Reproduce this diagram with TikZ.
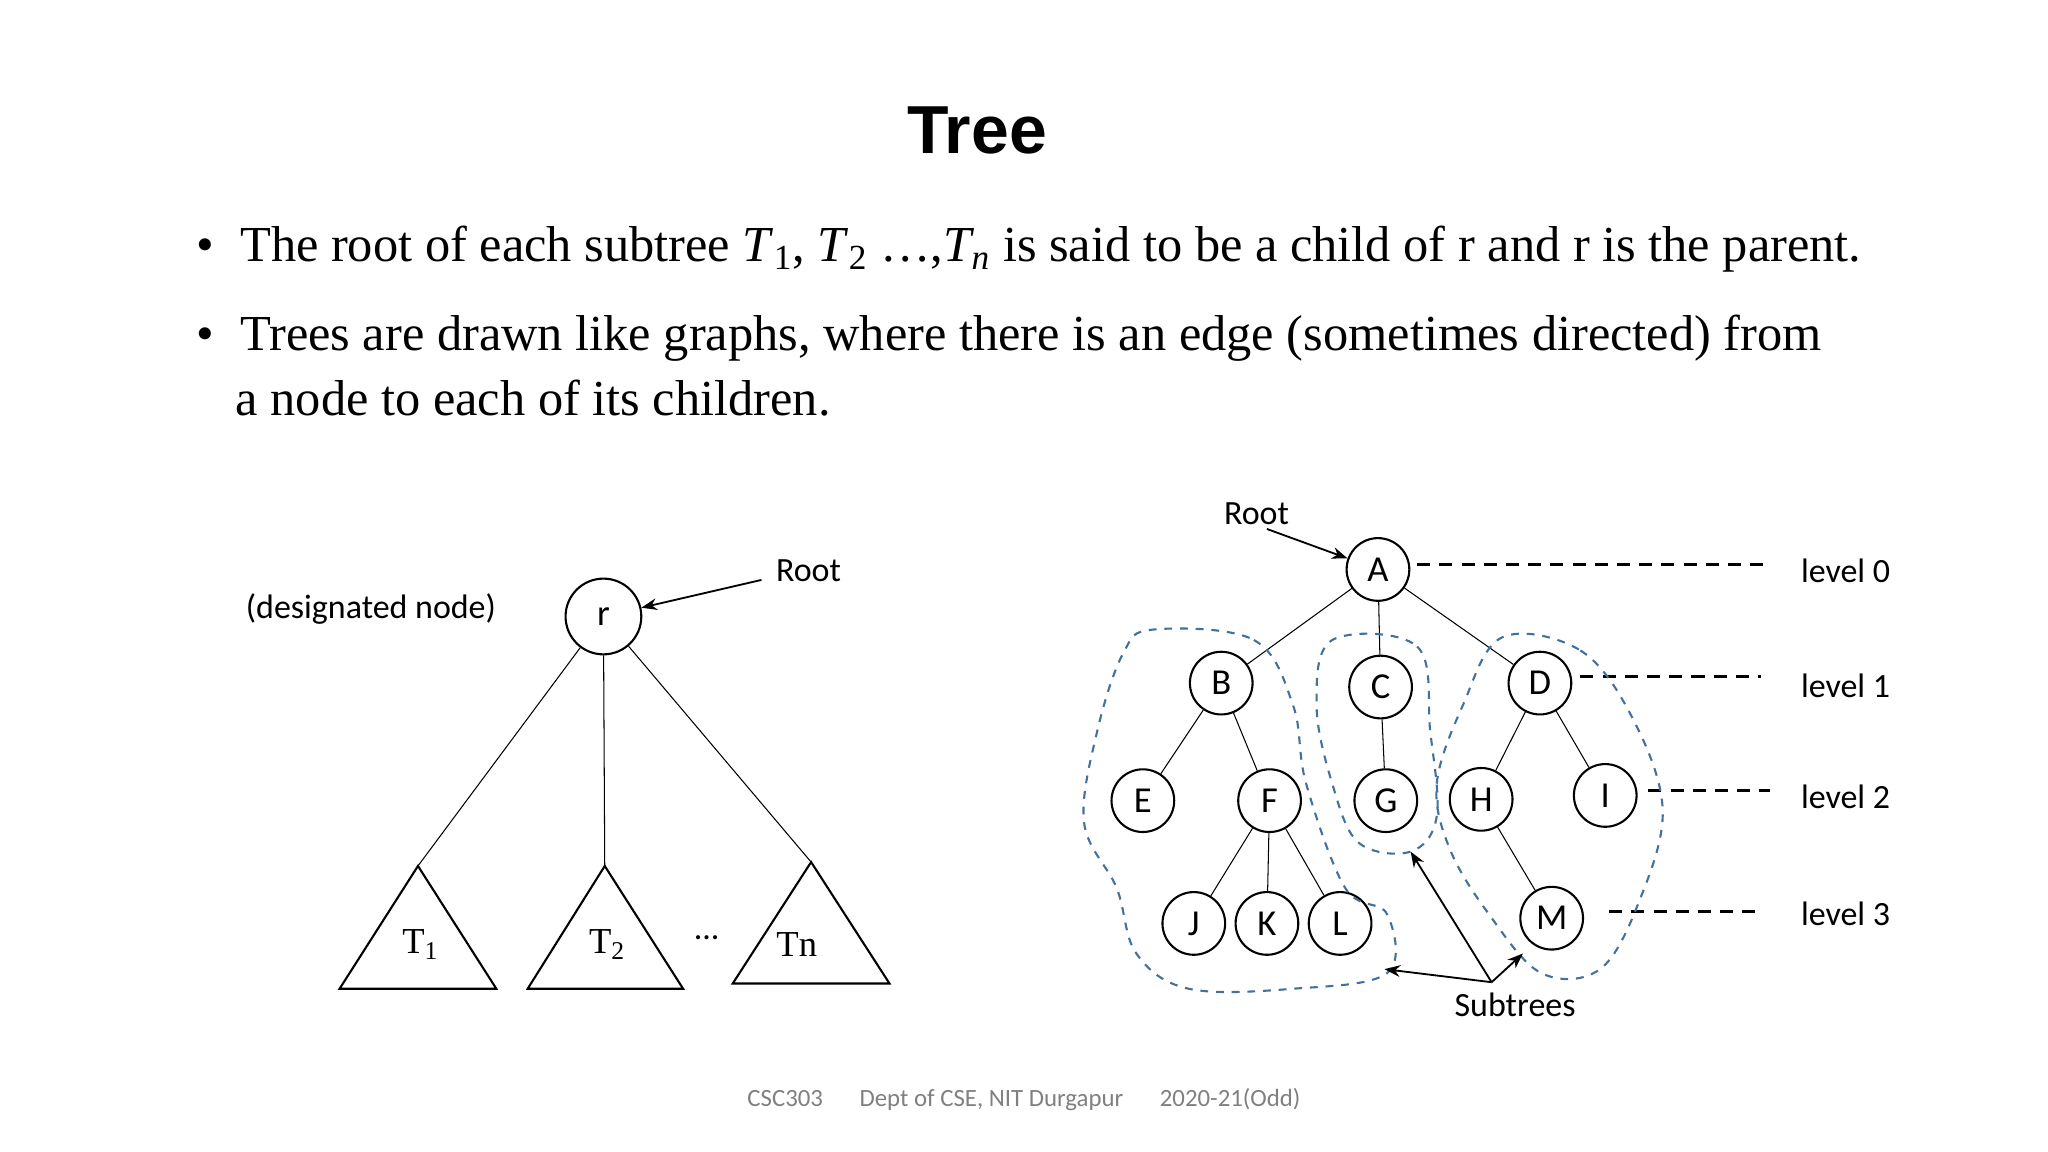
\documentclass[tikz,border=0pt]{standalone}
\usepackage{fontspec}
\setmainfont{Liberation Serif}
\newfontfamily\timesf{Liberation Serif}
\newfontfamily\arialf{Liberation Sans}
\newfontfamily\calf{Carlito}
\usetikzlibrary{arrows.meta}
\definecolor{blobc}{HTML}{41719C}
\tikzset{
 tn/.style={circle,draw,thick,minimum size=24pt,inner sep=0pt,font=\calf\fontsize{14}{17}\selectfont},
 lab/.style={font=\calf\fontsize{13}{16}\selectfont},
 ed/.style={draw,line width=0.4pt},
 ar/.style={-{Stealth[length=6pt]},line width=0.7pt},
 lvl/.style={dashed,line width=1pt,dash pattern=on 5pt off 3.5pt},
 blob/.style={draw=blobc,dashed,line width=0.8pt},
 tri/.style={draw,line width=0.8pt},
 btxt/.style={anchor=base west,inner sep=0pt,font=\timesf\fontsize{19.3}{23}\selectfont}
}
\begin{document}
\begin{tikzpicture}[x=0.5pt,y=-0.5pt]
\useasboundingbox[fill=white] (0,0) rectangle (1568,882);
\node[font=\arialf\bfseries\fontsize{26}{30}\selectfont] (title) at (748,100) {Tree};
\node[btxt] (b1) at (150,200) {•\hspace{10pt}The root of each subtree \textit{T}\textsubscript{1}, \textit{T}\textsubscript{2} …,\textit{T\textsubscript{n}} is said to be a child of r and r is the parent.};
\node[btxt] (b2) at (150,268) {•\hspace{10pt}Trees are drawn like graphs, where there is an edge (sometimes directed) from};
\node[btxt] (b3) at (180,318) {a node to each of its children.};
% left tree
\node[circle,draw,thick,minimum size=29pt,inner sep=0pt,font=\calf\fontsize{14}{17}\selectfont] (r) at (462,472) {r};
\node[lab] (dn) at (284,466) {(designated node)};
\node[lab] (rl) at (619,437) {Root};
\coordinate (rla) at (583,444);
\draw[ar] (rla) -- (r);
\coordinate (t1) at (320,663); \coordinate (t2) at (463,663); \coordinate (t3) at (621,660);
\draw[tri] (t1) -- (380,757) -- (260,757) -- cycle;
\draw[tri] (t2) -- (523,757) -- (404,757) -- cycle;
\draw[tri] (t3) -- (681,753) -- (561,753) -- cycle;
\draw[ed] (r) -- (t1); \draw[ed] (r) -- (t2); \draw[ed] (r) -- (t3);
\node[font=\timesf\fontsize{14}{17}\selectfont] (T1) at (322,723) {T\textsubscript{1}};
\node[font=\timesf\fontsize{14}{17}\selectfont] (T2) at (465,723) {T\textsubscript{2}};
\node[font=\timesf\fontsize{14}{17}\selectfont] (Tn) at (610,723) {Tn};
\node[lab] (dots) at (541,718) {...};
% right tree
\foreach \n/\x/\y in {A/1055/436,B/935/523,C/1057/526,D/1179/523,E/875/613,F/972/613,G/1061/613,H/1134/612,I/1229/609,J/914/707,K/970/707,L/1026/707,M/1188/703}
 \node[tn] (\n) at (\x,\y) {\n};
\foreach \a/\b in {A/B,A/C,A/D,B/E,B/F,C/G,D/H,D/I,F/J,F/K,F/L,H/M}
 \draw[ed] (\a) -- (\b);
\node[lab] (root2) at (962,393) {Root};
\coordinate (ra) at (970,405);
\draw[ar] (ra) -- (A);
\foreach \i/\xa/\xb/\y/\ly in {0/1085/1355/432/437,1/1210/1348/518/525,2/1262/1355/605/610,3/1232/1348/698/700}{
 \coordinate (ls\i) at (\xa,\y); \coordinate (le\i) at (\xb,\y);
 \draw[lvl] (ls\i) -- (le\i);
 \node[lab] (lv\i) at (1413,\ly) {level \i};
}
\draw[blob] plot[smooth cycle,tension=0.6] coordinates {(883,482)(960,490)(990,540)(1000,600)(1030,680)(1062,700)(1062,745)(990,757)(910,757)(870,730)(855,680)(830,630)(840,560)(860,500)};
\draw[blob] plot[smooth cycle,tension=0.6] coordinates {(1020,490)(1085,495)(1095,560)(1100,625)(1080,652)(1040,645)(1020,600)(1008,540)};
\draw[blob] plot[smooth cycle,tension=0.6] coordinates {(1150,488)(1210,498)(1250,550)(1273,620)(1255,690)(1225,742)(1180,745)(1140,700)(1110,650)(1100,600)(1120,540)};
\node[lab] (sub) at (1160,769) {Subtrees};
\coordinate (s1) at (1060,742); \coordinate (s2) at (1080,652); \coordinate (s3) at (1166,730);
\coordinate (so) at (1142,752);
\draw[ar] (so) -- (s1); \draw[ar] (so) -- (s2); \draw[ar] (so) -- (s3);
\node[font=\calf\fontsize{9.5}{12}\selectfont,text=gray] (foot) at (784,842) {CSC303\hspace{14pt}Dept of CSE, NIT Durgapur\hspace{14pt}2020-21(Odd)};
\end{tikzpicture}
\end{document}
